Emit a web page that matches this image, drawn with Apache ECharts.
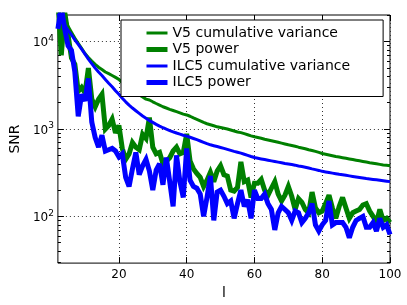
<!DOCTYPE html>
<html>
<head>
<meta charset="utf-8">
<script src="https://cdn.jsdelivr.net/npm/echarts@6/dist/echarts.min.js"></script>
<style>html,body{margin:0;padding:0;background:#fff}#c{width:407px;height:305px}</style>
</head>
<body>
<div id="c"></div>
<script>
const seriesNames = ['V5 cumulative variance', 'V5 power', 'ILC5 cumulative variance', 'ILC5 power'];
const xTicks = [20, 40, 60, 80, 100];
const yMajorTicks = [100, 1000, 10000];
const yMinorTicks = [30,40,50,60,70,80,90,200,300,400,500,600,700,800,900,2000,3000,4000,5000,6000,7000,8000,9000,20000];
const lFirst = 2, lLast = 100;

const v5Cumulative = [30000,24000,19000,15000,12800,11000,9600,8400,7300,6600,6000,5500,5100,4800,4500,4300,4100,3900,3700,3400,3100,2900,2750,2600,2450,2330,2200,2150,2050,1960,1880,1800,1740,1680,1630,1580,1530,1480,1450,1400,1340,1290,1240,1190,1150,1120,1090,1060,1040,1020,1000,975,950,925,910,885,860,835,815,800,785,765,750,735,720,705,690,675,660,648,635,620,608,595,580,568,555,540,525,515,505,495,485,478,470,462,455,447,440,433,426,419,412,406,400,394,388,384,380];
const v5Power = [30000,7000,22000,12000,6500,5500,2700,3000,2600,5000,2200,1800,2200,2500,1000,1100,1300,900,1100,600,450,520,700,620,580,870,780,1350,620,520,540,400,430,470,560,620,520,540,880,430,350,310,280,220,260,320,250,330,380,300,290,200,195,215,420,250,260,165,240,240,265,200,175,210,250,180,150,175,220,170,120,160,145,120,110,190,125,110,115,140,175,125,95,130,165,125,95,110,115,120,135,140,115,100,85,120,90,95,85];
const ilc5Cumulative = [21000,18000,15500,13500,12000,10500,9300,8200,7200,6300,5600,5000,4500,4100,3700,3350,3050,2750,2500,2250,2050,1880,1740,1620,1510,1410,1330,1250,1190,1130,1080,1035,995,960,930,900,875,850,830,805,780,755,730,705,680,660,645,630,615,600,585,570,555,542,530,515,500,485,472,463,455,447,440,432,425,418,411,404,398,392,386,378,372,366,358,350,343,336,328,323,318,313,308,303,299,295,291,287,283,279,275,271,268,265,262,259,256,253,250];
const ilc5Power = [14000,25000,14000,9000,8000,4500,1400,2500,2100,3800,1200,800,620,850,560,580,600,560,480,520,280,220,350,540,300,380,450,330,200,340,400,230,470,250,130,500,250,165,600,260,220,210,180,100,165,290,90,190,200,170,140,150,95,140,200,130,155,95,200,160,160,180,140,120,70,110,130,120,110,90,115,110,85,95,110,140,80,68,80,90,150,80,85,85,85,75,57,75,90,95,100,75,75,85,68,95,75,80,62];

const ells = [];
for (let l = lFirst; l <= lLast; l++) ells.push(l);
const pairs = arr => arr.map((v, i) => [ells[i], v]);

const FONT = 'DejaVu Sans';
const GREEN = '#008000', BLUE = '#0000ff';
const yMin = 29.2, yMax = 20200;

const chart = echarts.init(document.getElementById('c'), null, {renderer: 'canvas'});

function yAxisDef(position, ticks, len, withLabels) {
  return {
    type: 'log', logBase: 10, min: yMin, max: yMax, position: position,
    axisLine: {show: false},
    axisTick: {show: true, inside: true, length: len, customValues: ticks, lineStyle: {color: '#000', width: 1}},
    axisLabel: withLabels ? {
      show: true, customValues: ticks, margin: 4,
      formatter: v => '{b|10}{s|' + Math.round(Math.log10(v)) + '}',
      rich: {
        b: {fontSize: 12, fontFamily: FONT, color: '#000', verticalAlign: 'bottom'},
        s: {fontSize: 9, fontFamily: FONT, color: '#000', verticalAlign: 'bottom', padding: [0, 0, 6, 0]}
      }
    } : {show: false},
    splitLine: withLabels && position === 'left' ? {show: true, lineStyle: {color: '#333', width: 1, type: [1, 3]}} : {show: false},
    minorTick: {show: false}
  };
}

const option = {
  animation: false,
  backgroundColor: '#fff',
  grid: {left: 45, right: 17, top: 15, bottom: 33, show: true, borderColor: '#000', borderWidth: 1, backgroundColor: 'transparent'},
  xAxis: [
    {
      type: 'value', min: lFirst, max: lLast, position: 'bottom',
      name: 'l', nameLocation: 'middle', nameGap: 21,
      nameTextStyle: {fontSize: 14, fontFamily: FONT, color: '#000'},
      axisLine: {show: false},
      axisTick: {show: true, inside: true, length: 6, customValues: xTicks, lineStyle: {color: '#000'}},
      axisLabel: {show: true, customValues: xTicks, margin: 6, fontSize: 12, fontFamily: FONT, color: '#000'},
      splitLine: {show: true, lineStyle: {color: '#333', width: 1, type: [1, 3]}}
    },
    {
      type: 'value', min: lFirst, max: lLast, position: 'top',
      axisLine: {show: false},
      axisTick: {show: true, inside: true, length: 6, customValues: xTicks, lineStyle: {color: '#000'}},
      axisLabel: {show: false},
      splitLine: {show: false}
    }
  ],
  yAxis: [
    Object.assign(yAxisDef('left', yMajorTicks, 6, true), {
      name: 'SNR', nameLocation: 'middle', nameGap: 30,
      nameTextStyle: {fontSize: 14, fontFamily: FONT, color: '#000'}
    }),
    yAxisDef('left', yMinorTicks, 3, false),
    yAxisDef('right', yMajorTicks, 6, false),
    yAxisDef('right', yMinorTicks, 3, false)
  ],
  legend: {
    orient: 'vertical', left: 121, top: 20,
    padding: [6, 33, 7, 23],
    itemWidth: 21, itemHeight: 14, itemGap: 2.5,
    backgroundColor: '#fff', borderColor: '#000', borderWidth: 1, borderRadius: 0,
    textStyle: {fontSize: 14, fontFamily: FONT, color: '#000'},
    itemStyle: {opacity: 0},
    data: [
      {name: seriesNames[0], lineStyle: {width: 3}},
      {name: seriesNames[1], lineStyle: {width: 5}},
      {name: seriesNames[2], lineStyle: {width: 3}},
      {name: seriesNames[3], lineStyle: {width: 5}}
    ]
  },
  series: [
    {name: seriesNames[0], type: 'line', data: pairs(v5Cumulative), showSymbol: false, symbol: 'none', color: GREEN, lineStyle: {color: GREEN, width: 3, join: 'round'}},
    {name: seriesNames[1], type: 'line', data: pairs(v5Power), showSymbol: false, symbol: 'none', color: GREEN, lineStyle: {color: GREEN, width: 5, join: 'miter', miterLimit: 3}},
    {name: seriesNames[2], type: 'line', data: pairs(ilc5Cumulative), showSymbol: false, symbol: 'none', color: BLUE, lineStyle: {color: BLUE, width: 3, join: 'round'}},
    {name: seriesNames[3], type: 'line', data: pairs(ilc5Power), showSymbol: false, symbol: 'none', color: BLUE, lineStyle: {color: BLUE, width: 5, join: 'miter', miterLimit: 3}}
  ]
};
chart.setOption(option);
</script>
</body>
</html>
